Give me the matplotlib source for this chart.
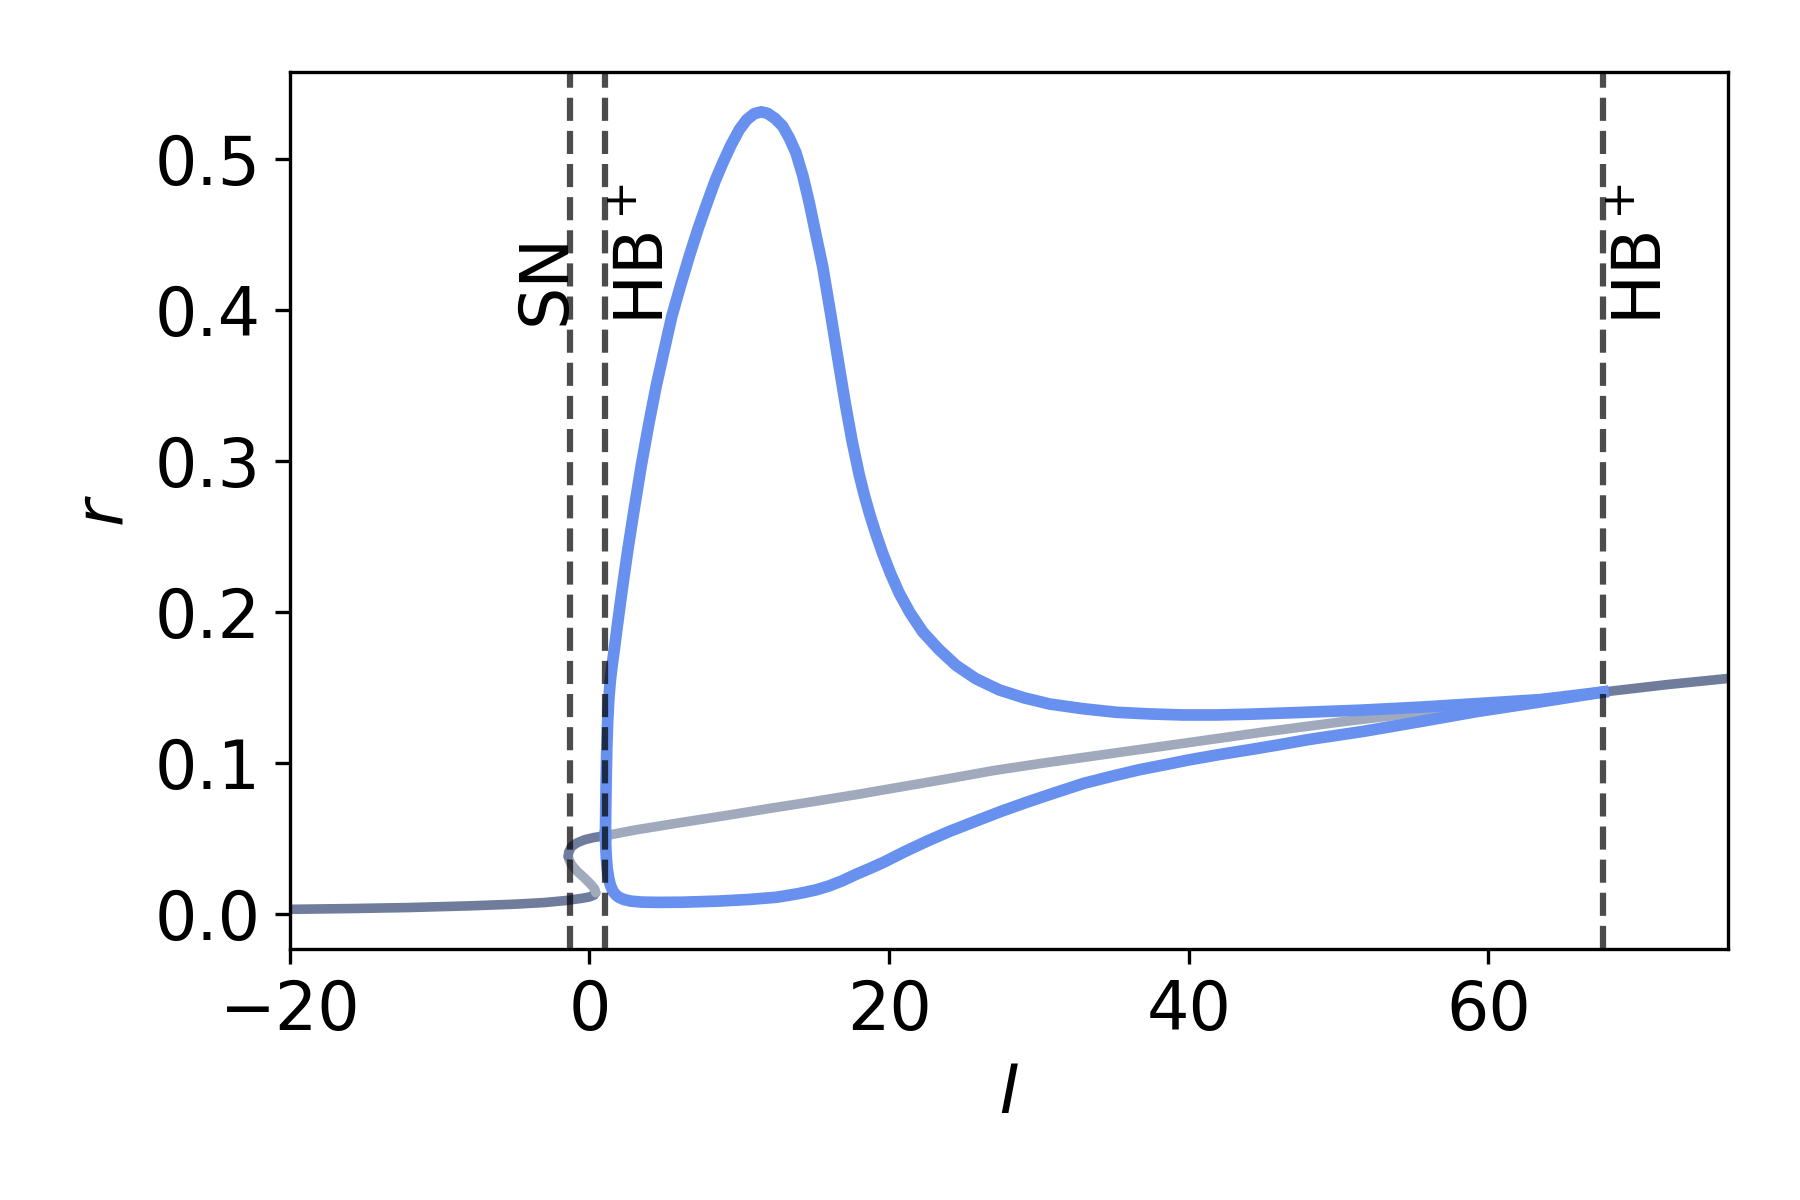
import matplotlib
matplotlib.use("Agg")
import matplotlib.pyplot as plt

# equilibrium branch (gray), split by stability
I_low = [-20, -16, -12, -8, -5, -3, -1.6, -0.5, 0.0, 0.3, 0.42]
r_low = [0.003, 0.0035, 0.0042, 0.0053, 0.0064, 0.0075, 0.0088, 0.0103, 0.0112, 0.0124, 0.014]

I_mid = [0.42, 0.35, 0.1, -0.3, -0.8, -1.15, -1.35, -1.42]
r_mid = [0.014, 0.0165, 0.0195, 0.0235, 0.028, 0.032, 0.0355, 0.038]

I_up = [-1.42, -1.38, -1.2, -0.8, -0.3, 0.3, 1.07]
r_up = [0.038, 0.041, 0.0445, 0.0472, 0.0492, 0.0506, 0.0518]

I_unst = [1.07, 3, 6.1, 9, 12.1, 15, 18.1, 21, 24.2, 27, 30, 35, 40, 45, 50,
          55, 60, 64, 67.65]
r_unst = [0.0518, 0.0555, 0.0605, 0.065, 0.070, 0.0745, 0.0795, 0.0845, 0.090,
          0.095, 0.0995, 0.1065, 0.1135, 0.1205, 0.127, 0.133, 0.139, 0.143, 0.147]

I_stab = [67.65, 72, 76]
r_stab = [0.147, 0.152, 0.156]

# limit cycle (blue): max and min of r
I_max = [1.07, 1.09, 1.12, 1.16, 1.22, 1.3, 1.4, 1.52, 1.67, 1.85, 2.05, 2.3,
         2.56, 3.0, 3.45, 3.95, 4.45, 5.0, 5.5, 6.1, 6.67, 7.25, 7.85, 8.4,
         8.9, 9.45, 10.01, 10.5, 11.0, 11.46, 11.9, 12.4, 12.9, 13.35, 13.79,
         14.25, 14.68, 15.1, 15.57, 16.13, 16.6, 17.1, 17.55, 18.02, 18.35,
         18.69, 19.1, 19.57, 20.1, 20.68, 21.4, 22.24, 23.3, 24.47, 25.8,
         27.36, 29.0, 30.7, 32.9, 35.15, 37.4, 39.6, 41.8, 44.04, 47.5, 51.5,
         55.5, 59.5, 63.5, 67.65]
r_max = [0.052, 0.07, 0.09, 0.11, 0.128, 0.143, 0.155, 0.165, 0.176, 0.19,
         0.205, 0.223, 0.241, 0.269, 0.2965, 0.324, 0.3495, 0.374, 0.396, 0.417,
         0.436, 0.454, 0.471, 0.486, 0.4977, 0.5095, 0.5198, 0.5263, 0.5303,
         0.5315, 0.5305, 0.527, 0.522, 0.514, 0.5043, 0.489, 0.471, 0.451,
         0.429, 0.396, 0.367, 0.337, 0.3125, 0.2905, 0.2775, 0.2655, 0.2525,
         0.239, 0.2255, 0.2125, 0.1995, 0.187, 0.1755, 0.1647, 0.1558, 0.1484,
         0.1432, 0.1391, 0.136, 0.1336, 0.1325, 0.1318, 0.1318, 0.1323, 0.1335,
         0.135, 0.137, 0.1395, 0.142, 0.147]

I_min = [1.07, 1.09, 1.13, 1.19, 1.28, 1.4, 1.57, 1.77, 1.96, 2.3, 2.8, 3.5,
         4.5, 6.1, 8.5, 10.6, 12.5, 14, 15.1, 16.0, 16.9, 17.8, 18.7, 19.6,
         21.0, 22.5, 24, 25.8, 27.5, 29.2, 31, 33, 35, 36.7, 38.5, 40, 42,
         44.2, 46, 48, 51.7, 55.5, 59.2, 63.5, 67.65]
r_min = [0.052, 0.045, 0.037, 0.030, 0.024, 0.019, 0.015, 0.0125, 0.011,
         0.0095, 0.0084, 0.0078, 0.0076, 0.0077, 0.0084, 0.0095, 0.011, 0.0135,
         0.0158, 0.0185, 0.022, 0.0262, 0.030, 0.034, 0.041, 0.048, 0.0545,
         0.0615, 0.068, 0.074, 0.080, 0.0865, 0.0915, 0.0955, 0.099, 0.102,
         0.1055, 0.109, 0.112, 0.1155, 0.121, 0.1275, 0.134, 0.1405, 0.147]

# bifurcation points
bif_I = [-1.31, 1.07, 67.65]
bif_labels = ["SN", "HB$^+$", "HB$^+$"]

dark = "#707c9b"
light = "#a1a9bc"
blue = "#6790ef"

plt.rcParams["font.size"] = 16
fig, ax = plt.subplots(figsize=(6, 4), dpi=300)
fig.subplots_adjust(left=0.161, right=0.960, bottom=0.209, top=0.940)

gray_kw = dict(lw=2.3, solid_capstyle="round", solid_joinstyle="round")
ax.plot(I_low, r_low, color=dark, **gray_kw)
ax.plot(I_mid, r_mid, color=light, **gray_kw)
ax.plot(I_up, r_up, color=dark, **gray_kw)
ax.plot(I_unst, r_unst, color=light, **gray_kw)
ax.plot(I_stab, r_stab, color=dark, **gray_kw)

blue_kw = dict(lw=2.8, solid_joinstyle="round")
ax.plot(I_max, r_max, color=blue, **blue_kw)
ax.plot(I_min, r_min, color=blue, **blue_kw)

for x, lab in zip(bif_I, bif_labels):
    ax.axvline(x, color="k", ls="--", lw=1.5, alpha=0.7)
    if lab == "SN":
        ax.text(x + 0.6, 0.39, lab, rotation=90, ha="right", va="bottom")
    else:
        ax.text(x + 0.4, 0.39, lab, rotation=90, ha="left", va="bottom")

ax.set_xlim(-20, 76)
ax.set_xlabel("$I$")
ax.set_ylabel("$r$")

fig.savefig("out.png", dpi=300)
